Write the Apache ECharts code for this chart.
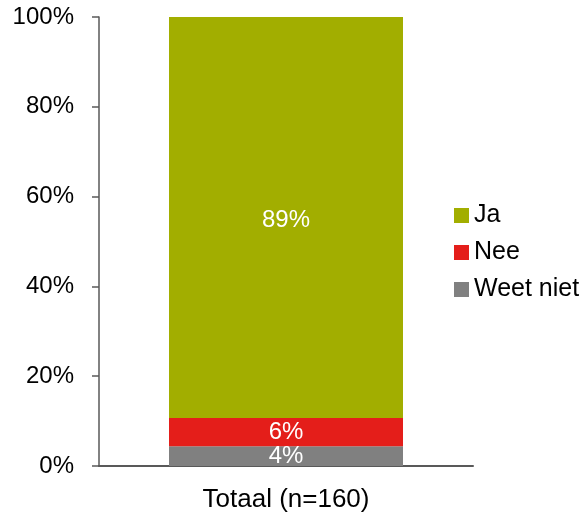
<!DOCTYPE html>
<html>
<head>
<meta charset="utf-8">
<script src="https://cdn.jsdelivr.net/npm/echarts@6/dist/echarts.min.js"></script>
<style>
  html, body { margin: 0; padding: 0; background: #fff; }
  #main { width: 586px; height: 515px; }
</style>
</head>
<body>
<div id="main"></div>
<script>
// data
const categories = ['Totaal (n=160)']
const weetNiet = [4.4]
const nee = [6.3]
const ja = [89.3]
const legendNames = ['Ja', 'Nee', 'Weet niet']

const chart = echarts.init(document.getElementById('main'))
const font = 'Liberation Sans, Arial, sans-serif'

const label = {
  show: true,
  position: 'inside',
  color: '#fff',
  fontSize: 24,
  fontFamily: font,
  formatter: p => Math.round(p.value) + '%'
}

const option = {
  animation: false,
  grid: { left: 99, right: 113, top: 17, bottom: 49 },
  legend: {
    orient: 'vertical',
    left: 449,
    top: 198,
    data: legendNames,
    itemWidth: 15,
    itemHeight: 15,
    itemGap: 12,
    icon: 'rect',
    textStyle: { fontSize: 25, fontFamily: font, color: '#000' }
  },
  xAxis: {
    type: 'category',
    data: categories,
    axisLine: { lineStyle: { color: '#595959', width: 2 } },
    axisTick: { show: false },
    axisLabel: { fontSize: 26, fontFamily: font, color: '#000', margin: 21 }
  },
  yAxis: {
    type: 'value',
    min: 0,
    max: 100,
    interval: 20,
    splitLine: { show: false },
    axisLine: { show: true, lineStyle: { color: '#595959', width: 1.5 } },
    axisTick: { show: true, inside: false, length: 7, lineStyle: { color: '#595959', width: 1.5 } },
    axisLabel: { fontSize: 24, fontFamily: font, color: '#000', margin: 25, formatter: '{value}%' }
  },
  series: [
    { name: 'Weet niet', type: 'bar', stack: 't', data: weetNiet, barWidth: 234, itemStyle: { color: '#808080' }, label },
    { name: 'Nee', type: 'bar', stack: 't', data: nee, itemStyle: { color: '#e41e1a' }, label },
    { name: 'Ja', type: 'bar', stack: 't', data: ja, itemStyle: { color: '#a2ae00' }, label: { ...label, offset: [0, 3] } }
  ]
}

chart.setOption(option)
</script>
</body>
</html>
